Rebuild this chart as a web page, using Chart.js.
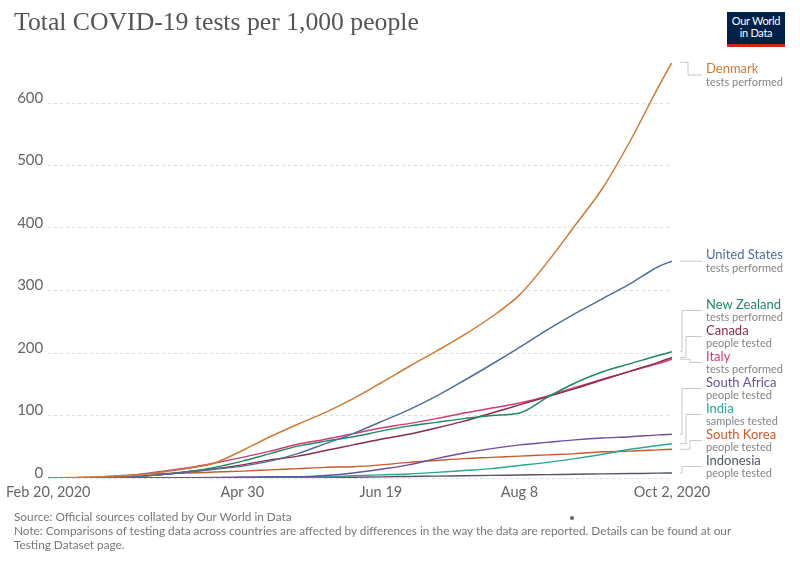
<!DOCTYPE html>
<html>
<head>
<meta charset="utf-8">
<script src="https://cdn.jsdelivr.net/npm/chart.js@4.4.1/dist/chart.umd.min.js"></script>
<style>
  html, body { margin: 0; padding: 0; background: #fff; }
  #wrap { position: relative; width: 800px; height: 565px; overflow: hidden; font-family: Lato, sans-serif; }
  #chart { position: absolute; left: 0; top: 0; }
  #title { position: absolute; left: 14px; top: 7px; font-family: 'Liberation Serif', 'DejaVu Serif', serif; font-size: 25.7px; color: #555; white-space: nowrap; }
  #logo { position: absolute; left: 727px; top: 12px; width: 58px; background: #002147; border-bottom: 3px solid #ce261e; color: #fff; font-size: 11px; line-height: 12px; text-align: center; padding-top: 3px; height: 29px; letter-spacing: -0.3px; }
  #footer { position: absolute; left: 14px; top: 510px; font-size: 11.8px; line-height: 14px; color: #777; white-space: nowrap; }
  #dot { position: absolute; left: 570px; top: 516px; width: 4px; height: 4px; border-radius: 2px; background: #666; }
</style>
</head>
<body>
<div id="wrap">
  <canvas id="chart" width="800" height="565"></canvas>
  <div id="title">Total COVID-19 tests per 1,000 people</div>
  <div id="logo">Our World<br>in Data</div>
  <div id="footer">Source: Official sources collated by Our World in Data<br>Note: Comparisons of testing data across countries are affected by differences in the way the data are reported. Details can be found at our<br>Testing Dataset page.</div>
  <div id="dot"></div>
</div>
<script>
// days since Feb 20, 2020
const days = [0, 10, 20, 30, 40, 50, 60, 70, 80, 90, 100, 110, 120, 130, 140, 150, 160, 170, 180, 190, 200, 210, 220, 225];
const tickDays = [0, 70, 120, 170, 225];
const tickLabels = ['Feb 20, 2020', 'Apr 30', 'Jun 19', 'Aug 8', 'Oct 2, 2020'];
const yTicks = [0, 100, 200, 300, 400, 500, 600];

const countries = ['Denmark', 'United States', 'New Zealand', 'Canada', 'Italy', 'South Africa', 'India', 'South Korea', 'Indonesia'];
const subtitles = ['tests performed', 'tests performed', 'tests performed', 'people tested', 'tests performed', 'people tested', 'samples tested', 'people tested', 'people tested'];
const colors = ['#cf7a32', '#4f6d9c', '#1e8a5e', '#8b2c4a', '#d43a78', '#6b4fa0', '#2ba596', '#c75b2e', '#505866'];

const denmark     = [0.3, 1, 2, 4, 9, 15, 24, 44, 66, 86, 105, 127, 152, 178, 203, 229, 258, 293, 345, 404, 464, 540, 625, 665];
const unitedStates = [0, 0.1, 0.5, 2, 5, 9, 14, 19, 27, 39, 55, 71, 90, 109, 131, 156, 182, 209, 237, 263, 287, 311, 338, 347];
const newZealand  = [0, 0.1, 0.5, 2, 5, 10, 17, 27, 39, 51, 59, 66, 75, 83, 89, 95, 100, 104, 129, 152, 170, 183, 196, 202];
const canada      = [0, 0.1, 0.5, 2, 5, 10, 15, 21, 29, 35, 44, 53, 62, 70, 80, 91, 104, 117, 130, 143, 157, 171, 185, 193];
const italy       = [0, 0.1, 1, 4, 10, 16, 24, 33, 43, 54, 62, 71, 80, 87, 95, 104, 112, 120, 131, 145, 158, 171, 183, 190];
const southAfrica = [0, 0, 0, 0.1, 0.3, 0.6, 1, 1.5, 2, 2, 4, 8, 14, 21, 31, 40, 47, 53, 57, 61, 64, 66, 69, 70];
const india       = [0, 0, 0, 0, 0.1, 0.2, 0.4, 0.6, 0.9, 1.3, 2, 3.5, 5, 6.5, 9, 12, 15, 20, 25, 31, 38, 46, 52, 55];
const southKorea  = [0.1, 0.4, 2, 5, 7, 8, 9.5, 11, 13, 15, 17, 18, 21, 25, 28, 31, 33, 35, 37, 39, 42, 43, 45, 46];
const indonesia   = [0, 0, 0, 0, 0.05, 0.1, 0.2, 0.3, 0.4, 0.6, 0.9, 1.3, 1.8, 2.4, 3, 3.6, 4.2, 4.8, 5.4, 6, 6.6, 7.2, 7.8, 8];

const series = [denmark, unitedStates, newZealand, canada, italy, southAfrica, india, southKorea, indonesia];

// labels at the right end of each line, pushed apart so they don't overlap
const endLabels = {
    id: 'endLabels',
    afterDatasetsDraw(chart) {
        const { ctx, chartArea, scales: { x, y } } = chart;
        const H = 26;
        const topB = chartArea.top - 1, botB = chartArea.bottom + 1.5;
        const items = chart.data.datasets.map((ds, i) => {
            const last = ds.data[ds.data.length - 1];
            return { i, endX: x.getPixelForValue(last.x), endY: y.getPixelForValue(last.y) };
        }).sort((a, b) => a.endY - b.endY);

        let groups = items.map(it => ({ list: [it], sum: it.endY }));
        const place = g => {
            const n = g.list.length;
            let c = g.sum / n;
            c = Math.max(c, topB + n * H / 2);
            c = Math.min(c, botB - n * H / 2);
            g.top = c - n * H / 2;
            g.bottom = c + n * H / 2;
        };
        let changed = true;
        while (changed) {
            changed = false;
            groups.forEach(place);
            for (let k = 1; k < groups.length; k++) {
                if (groups[k - 1].bottom > groups[k].top) {
                    groups[k - 1].list = groups[k - 1].list.concat(groups[k].list);
                    groups[k - 1].sum += groups[k].sum;
                    groups.splice(k, 1);
                    changed = true;
                    break;
                }
            }
        }

        const textX = 706;
        ctx.save();
        groups.forEach(g => {
            g.list.forEach((it, k) => {
                const top = g.top + k * H;
                const mid = top + H / 2;
                const elbow = g.list.length > 1 ? 682 + (k % 3) * 4 : 688;
                ctx.strokeStyle = '#c8c8c8';
                ctx.lineWidth = 1;
                ctx.beginPath();
                ctx.moveTo(it.endX + 8, it.endY);
                ctx.lineTo(elbow, it.endY);
                ctx.lineTo(elbow, mid);
                ctx.lineTo(textX - 4, mid);
                ctx.stroke();

                ctx.textAlign = 'left';
                ctx.textBaseline = 'middle';
                ctx.font = '13px Lato';
                ctx.fillStyle = colors[it.i];
                ctx.fillText(countries[it.i], textX, top + 7);
                ctx.font = '11px Lato';
                ctx.fillStyle = '#858585';
                ctx.fillText(subtitles[it.i], textX, top + 20);
            });
        });
        ctx.restore();
    }
};

new Chart(document.getElementById('chart').getContext('2d'), {
    type: 'line',
    data: {
        datasets: countries.map((c, i) => ({
            label: c,
            data: series[i].map((v, j) => ({ x: days[j], y: v })),
            borderColor: colors[i],
            backgroundColor: colors[i],
            borderWidth: 1.5,
            pointRadius: 0,
            cubicInterpolationMode: 'monotone',
            fill: false
        }))
    },
    options: {
        responsive: false,
        animation: false,
        layout: { padding: { left: 0, right: 128, top: 63, bottom: 57 } },
        plugins: { legend: { display: false }, tooltip: { enabled: false } },
        scales: {
            x: {
                type: 'linear',
                min: 0,
                max: 225,
                afterBuildTicks: axis => { axis.ticks = tickDays.map(v => ({ value: v })); },
                afterFit: axis => { axis.height = 30; },
                grid: { display: false, drawTicks: false },
                border: { display: false },
                ticks: {
                    autoSkip: false,
                    maxRotation: 0,
                    padding: 6,
                    color: '#666',
                    font: { family: 'Lato', size: 14.5 },
                    callback: v => tickLabels[tickDays.indexOf(v)]
                }
            },
            y: {
                min: 0,
                max: 664,
                afterBuildTicks: axis => { axis.ticks = yTicks.map(v => ({ value: v })); },
                afterFit: axis => { axis.width = 44; },
                grid: { color: '#dcdcdc', drawTicks: false },
                border: { display: false, dash: [3, 3] },
                ticks: {
                    padding: 5,
                    labelOffset: -5,
                    color: '#666',
                    font: { family: 'Lato', size: 15 }
                }
            }
        }
    },
    plugins: [endLabels]
});
</script>
</body>
</html>
